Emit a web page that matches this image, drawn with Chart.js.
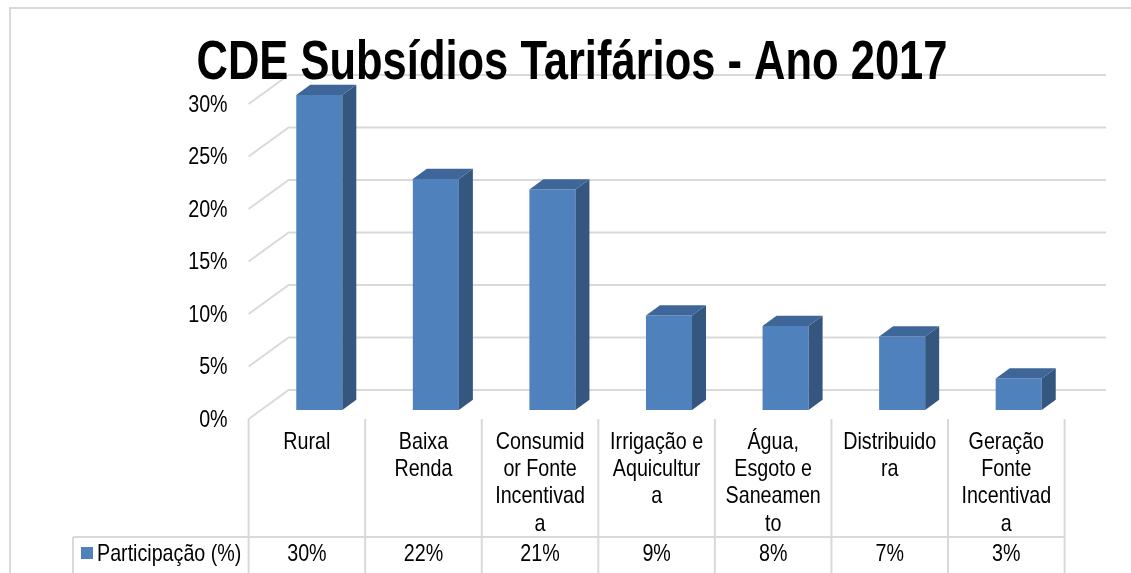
<!DOCTYPE html>
<html>
<head>
<meta charset="utf-8">
<script src="https://cdn.jsdelivr.net/npm/chart.js@4"></script>
<style>
  html, body { margin: 0; padding: 0; background: #fff; }
  #wrap { width: 1131px; height: 573px; position: relative; }
</style>
</head>
<body>
<div id="wrap"><canvas id="cde"></canvas></div>
<script>
/* CDE Subsídios Tarifários - Ano 2017 (3D column + data table) */
const titleText = 'CDE Subsídios Tarifários - Ano 2017';
const categories = [
    ['Rural'],
    ['Baixa', 'Renda'],
    ['Consumid', 'or Fonte', 'Incentivad', 'a'],
    ['Irrigação e', 'Aquicultur', 'a'],
    ['Água,', 'Esgoto e', 'Saneamen', 'to'],
    ['Distribuido', 'ra'],
    ['Geração', 'Fonte', 'Incentivad', 'a']
];
const participacao = [30, 22, 21, 9, 8, 7, 3];
const seriesName = 'Participação (%)';
const yMax = 30;
const yStep = 5;

// no Arial Narrow here: Liberation Sans squeezed horizontally stands in for it
const FONT = "'Liberation Sans', Arial, sans-serif";
const NARROW = 0.82;
const GRID = '#d9d9d9';
const BLUE = '#4F81BD', SIDE = '#34567F', TOP = '#3E6698';
// oblique depth of the plot box, and where the bars sit inside it
const DEPTH = { dx: 40, dy: -29 }, BAR_FRONT = 0.31, BAR_BACK = 0.66;

const pct = v => v + '%';

function narrowText(ctx, s, x, y, align, sx) {
    ctx.save();
    ctx.translate(x, y);
    ctx.scale(sx || NARROW, 1);
    ctx.textAlign = align;
    ctx.fillText(s, 0, 0);
    ctx.restore();
}

const cube3d = {
    id: 'cube3d',
    beforeDatasetsDraw(chart) {
        const { ctx, chartArea: a, scales: { y } } = chart;
        const fx = a.left - BAR_FRONT * DEPTH.dx, fy = -BAR_FRONT * DEPTH.dy;
        const bx = a.left + (1 - BAR_FRONT) * DEPTH.dx, by = (1 - BAR_FRONT) * DEPTH.dy;
        ctx.save();
        ctx.strokeStyle = GRID; ctx.lineWidth = 2;
        y.ticks.forEach(t => {
            const py = y.getPixelForValue(t.value);
            ctx.beginPath();
            ctx.moveTo(fx, py + fy);
            ctx.lineTo(bx, py + by);
            ctx.lineTo(a.right + 29, py + by);
            ctx.stroke();
        });
        // tick labels at the front edge of the box
        ctx.fillStyle = '#000';
        ctx.font = '24px ' + FONT;
        ctx.textBaseline = 'middle';
        y.ticks.forEach(t => narrowText(ctx, pct(t.value), fx - 21, y.getPixelForValue(t.value) + fy + 1, 'right'));
        ctx.restore();
    },
    afterDatasetsDraw(chart) {
        const { ctx } = chart;
        const ddx = (BAR_BACK - BAR_FRONT) * DEPTH.dx, ddy = (BAR_BACK - BAR_FRONT) * DEPTH.dy;
        ctx.save();
        chart.getDatasetMeta(0).data.forEach(bar => {
            const l = bar.x - bar.width / 2, r = bar.x + bar.width / 2, t = bar.y, b = bar.base;
            ctx.fillStyle = SIDE;
            ctx.beginPath();
            ctx.moveTo(r, t); ctx.lineTo(r + ddx, t + ddy); ctx.lineTo(r + ddx, b + ddy); ctx.lineTo(r, b);
            ctx.closePath(); ctx.fill();
            ctx.fillStyle = TOP;
            ctx.beginPath();
            ctx.moveTo(l, t); ctx.lineTo(r, t); ctx.lineTo(r + ddx, t + ddy); ctx.lineTo(l + ddx, t + ddy);
            ctx.closePath(); ctx.fill();
        });
        ctx.restore();
    },
    afterDraw(chart) {
        const { ctx, chartArea: a, scales: { x, y } } = chart;
        const w = (a.right - a.left) / categories.length;
        const x0 = a.left - BAR_FRONT * DEPTH.dx;
        const floorY = y.getPixelForValue(0) - BAR_FRONT * DEPTH.dy;
        const rowY = 537, bottom = 573, legendLeft = 73;
        ctx.save();
        // outer frame
        ctx.strokeStyle = GRID; ctx.lineWidth = 2;
        ctx.beginPath(); ctx.moveTo(10, bottom); ctx.lineTo(10, 8); ctx.lineTo(1131, 8); ctx.stroke();
        // title, squeezed to the reference width
        ctx.fillStyle = '#000';
        ctx.font = 'bold 56px ' + FONT;
        ctx.textBaseline = 'alphabetic';
        const tw = ctx.measureText(titleText).width;
        narrowText(ctx, titleText, 572, 79, 'center', 751 / tw);
        // data table grid
        ctx.strokeStyle = GRID; ctx.lineWidth = 2;
        for (let i = 0; i <= categories.length; i++) {
            const px = x0 + i * w;
            ctx.beginPath(); ctx.moveTo(px, floorY); ctx.lineTo(px, bottom); ctx.stroke();
        }
        ctx.beginPath(); ctx.moveTo(legendLeft, rowY); ctx.lineTo(x0 + categories.length * w, rowY); ctx.stroke();
        ctx.beginPath(); ctx.moveTo(legendLeft, rowY); ctx.lineTo(legendLeft, bottom); ctx.stroke();
        // category labels and values
        ctx.fillStyle = '#000';
        ctx.font = '24px ' + FONT;
        ctx.textBaseline = 'middle';
        categories.forEach((lines, i) => {
            const cx = x.getPixelForValue(i) - BAR_FRONT * DEPTH.dx;
            lines.forEach((s, k) => narrowText(ctx, s, cx, 442 + k * 27.3, 'center'));
            narrowText(ctx, pct(participacao[i]), cx, 554, 'center');
        });
        // legend key
        ctx.fillStyle = BLUE;
        ctx.fillRect(81, 547, 12, 12);
        ctx.fillStyle = '#000';
        narrowText(ctx, seriesName, 97, 554, 'left');
        ctx.restore();
    }
};

new Chart(document.getElementById('cde'), {
    type: 'bar',
    data: {
        labels: categories,
        datasets: [{ label: seriesName, data: participacao, backgroundColor: BLUE, borderWidth: 0, barPercentage: 0.395, categoryPercentage: 1 }]
    },
    options: {
        responsive: true, maintainAspectRatio: false, animation: false,
        layout: { padding: { left: 0, top: 95, right: 54, bottom: 163 } },
        plugins: { legend: { display: false }, tooltip: { enabled: false } },
        scales: {
            x: { display: false },
            y: {
                min: 0, max: yMax,
                afterFit(scale) { scale.width = 261; },
                grid: { display: false, drawTicks: false },
                border: { display: false },
                ticks: { stepSize: yStep, display: false, callback: pct }
            }
        }
    },
    plugins: [cube3d]
});
</script>
</body>
</html>
